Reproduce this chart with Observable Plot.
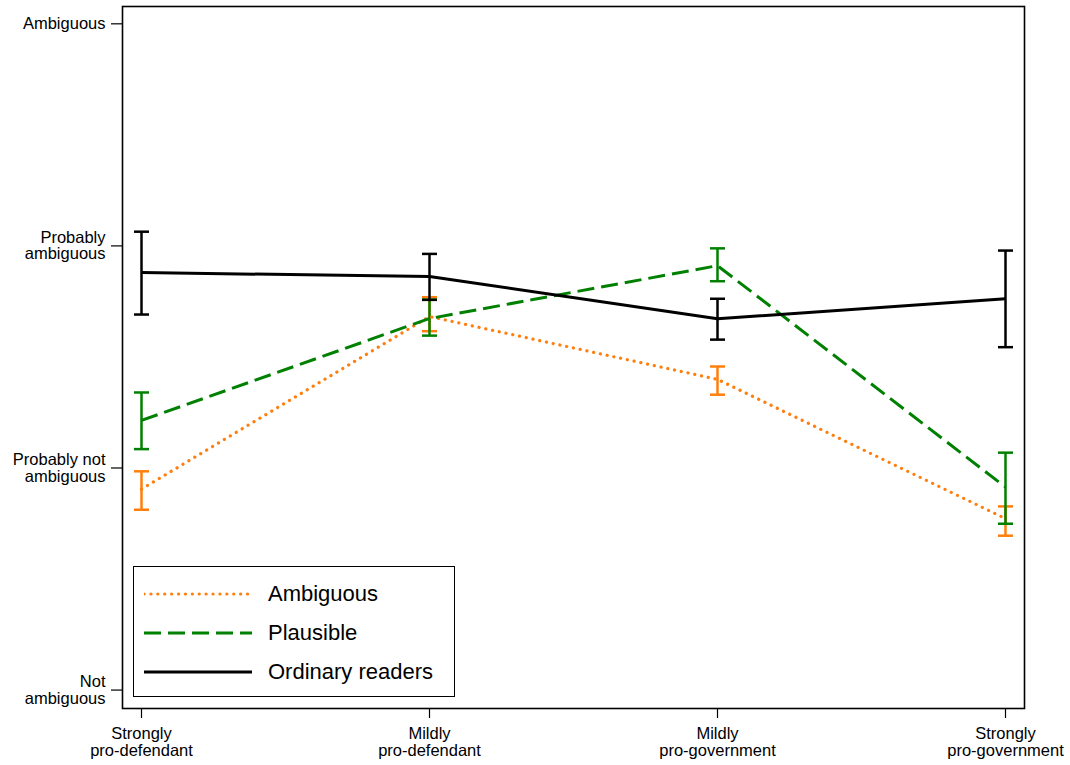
<!DOCTYPE html>
<html>
<head>
<meta charset="utf-8">
<script src="https://cdn.jsdelivr.net/npm/d3@7"></script>
<script src="https://cdn.jsdelivr.net/npm/@observablehq/plot@0.6"></script>
<style>
  html, body { margin: 0; padding: 0; background: #fff; }
  #wrap { position: relative; width: 1070px; height: 765px; font-family: "Liberation Sans", Arial, sans-serif; }
  #legend { position: absolute; left: 133px; top: 566px; width: 320px; height: 129px; border: 1.5px solid #000; background: #fff; }
  .row { position: absolute; left: 0; height: 30px; display: flex; align-items: center; }
  .row svg { margin-left: 10px; }
  .row span { margin-left: 16px; font-size: 22px; color: #000; }
</style>
</head>
<body>
<div id="wrap"></div>
<script>
const categories = ["Strongly\npro-defendant", "Mildly\npro-defendant", "Mildly\npro-government", "Strongly\npro-government"];

const ambiguousMean = [1.905, 2.682, 2.399, 1.772];
const ambiguousLo   = [1.812, 2.616, 2.330, 1.695];
const ambiguousHi   = [1.985, 2.769, 2.457, 1.827];

const plausibleMean = [2.214, 2.673, 2.911, 1.914];
const plausibleLo   = [2.085, 2.596, 2.841, 1.749];
const plausibleHi   = [2.340, 2.758, 2.989, 2.069];

const ordinaryMean  = [2.880, 2.862, 2.672, 2.762];
const ordinaryLo    = [2.691, 2.757, 2.578, 2.544];
const ordinaryHi    = [3.064, 2.964, 2.762, 2.979];

const yTicks = [1, 2, 3, 4];
const yLabels = ["Not\nambiguous", "Probably not\nambiguous", "Probably\nambiguous", "Ambiguous"];

const seriesNames = ["Ambiguous", "Plausible", "Ordinary readers"];
const seriesColors = ["#ff7f0e", "#008000", "#000000"];
const seriesDash = ["0.1,6.8", "17,7", null];
const seriesCap = ["round", "butt", "butt"];
const seriesWidth = [3.2, 3, 3];

function rows(mean, lo, hi) {
  return categories.map((c, i) => ({cat: c, mean: mean[i], lo: lo[i], hi: hi[i]}));
}
const series = [
  rows(ambiguousMean, ambiguousLo, ambiguousHi),
  rows(plausibleMean, plausibleLo, plausibleHi),
  rows(ordinaryMean, ordinaryLo, ordinaryHi)
];

const capSymbol = {
  draw(ctx, size) {
    const w = Math.sqrt(size / Math.PI);
    ctx.moveTo(-w, 0);
    ctx.lineTo(w, 0);
  }
};

const marks = [];
series.forEach((data, k) => {
  const color = seriesColors[k];
  marks.push(Plot.ruleX(data, {x: "cat", y1: "lo", y2: "hi", stroke: color, strokeWidth: 2.5}));
  marks.push(Plot.dot(data, {x: "cat", y: "lo", symbol: capSymbol, r: 7.5, stroke: color, strokeWidth: 2.5, fill: "none"}));
  marks.push(Plot.dot(data, {x: "cat", y: "hi", symbol: capSymbol, r: 7.5, stroke: color, strokeWidth: 2.5, fill: "none"}));
});
series.forEach((data, k) => {
  marks.push(Plot.line(data, {
    x: "cat", y: "mean", stroke: seriesColors[k],
    strokeWidth: seriesWidth[k],
    strokeDasharray: seriesDash[k] || undefined,
    strokeLinecap: seriesCap[k]
  }));
});

const chart = Plot.plot({
  width: 1070,
  height: 765,
  marginLeft: 122,
  marginRight: 46,
  marginTop: 6,
  marginBottom: 57,
  style: {fontFamily: "'Liberation Sans', Arial, sans-serif", fontSize: "16.5px", color: "#000", background: "#fff"},
  x: {type: "point", domain: categories, padding: 0.065},
  y: {domain: [0.917, 4.078]},
  marks: [
    Plot.axisX({ticks: categories, tickSize: 10, tickPadding: 9, tickFormat: d => d, label: null, lineHeight: 1.0, stroke: "#000", strokeWidth: 1.2}),
    Plot.axisY({ticks: yTicks, tickSize: 11, tickPadding: 6, tickFormat: d => yLabels[yTicks.indexOf(d)], label: null, lineHeight: 1.0, stroke: "#000", strokeWidth: 1.2}),
    ...marks,
    Plot.frame({stroke: "#000", strokeWidth: 1.6})
  ]
});

const wrap = document.getElementById("wrap");
wrap.appendChild(chart);

const legend = document.createElement("div");
legend.id = "legend";
seriesNames.forEach((name, k) => {
  const row = document.createElement("div");
  row.className = "row";
  row.style.top = (12 + k * 39) + "px";
  const svg = d3.create("svg").attr("width", 108).attr("height", 10);
  svg.append("line").attr("x1", 0).attr("x2", 108).attr("y1", 5).attr("y2", 5)
    .attr("stroke", seriesColors[k]).attr("stroke-width", seriesWidth[k])
    .attr("stroke-linecap", seriesCap[k])
    .attr("stroke-dasharray", seriesDash[k]);
  row.appendChild(svg.node());
  const span = document.createElement("span");
  span.textContent = name;
  row.appendChild(span);
  legend.appendChild(row);
});
wrap.appendChild(legend);
</script>
</body>
</html>
